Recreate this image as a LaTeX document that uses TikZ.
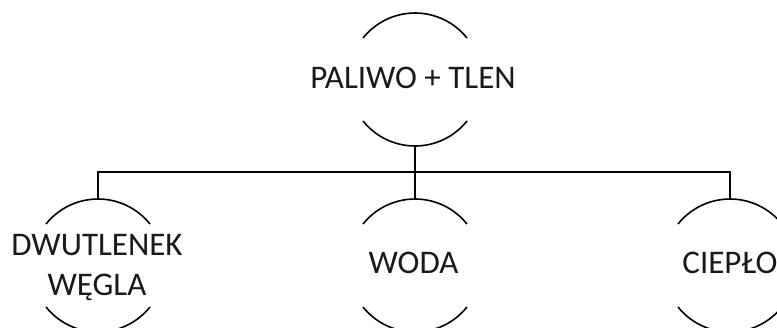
\documentclass[tikz,border=0pt]{standalone}
\usepackage{fontspec}
\setmainfont{Carlito}
\begin{document}
\begin{tikzpicture}[x=1pt,y=-1pt,
  arcline/.style={line width=1.6pt, black},
  conn/.style={line width=2pt, black},
  lbl/.style={font=\fontsize{33}{40}\selectfont, align=center, inner sep=0pt, text=black!90}]
\useasboundingbox (0,0) rectangle (777,327);
\clip (0,0) rectangle (777,327);
% centres of the circles
\coordinate (ctop) at (415,79.5);
\coordinate (c1) at (98,265.5);
\coordinate (c2) at (415,265.5);
\coordinate (c3) at (730,265.5);
% labels
\node[lbl, anchor=base] (top) at (413,88) {PALIWO + TLEN};
\node[lbl, anchor=base] (n1) at (97,295) {DWUTLENEK\\WĘGLA};
\node[lbl, anchor=base] (n2) at (413.5,273) {WODA};
\node[lbl, anchor=base] (n3) at (730,273) {CIEPŁO};
% arcs (top and bottom parts of each circle)
\foreach \c in {ctop,c1,c2,c3}{
  \draw[arcline] ([shift={(141.4:66.5pt)}]\c) arc[start angle=141.4, end angle=38.6, radius=66.5pt];
  \draw[arcline] ([shift={(218.6:66.5pt)}]\c) arc[start angle=218.6, end angle=321.4, radius=66.5pt];
}
% arc tops and bottoms
\coordinate (tb) at ([yshift=-66.5pt]ctop);
\coordinate (t1) at ([yshift=66.5pt]c1);
\coordinate (t2) at ([yshift=66.5pt]c2);
\coordinate (t3) at ([yshift=66.5pt]c3);
\coordinate (bus) at (415,172);
% connectors
\draw[conn] (tb) -- (bus);
\draw[conn] (t1) |- (bus) -| (t3);
\draw[conn] (bus) -- (t2);
\end{tikzpicture}
\end{document}
